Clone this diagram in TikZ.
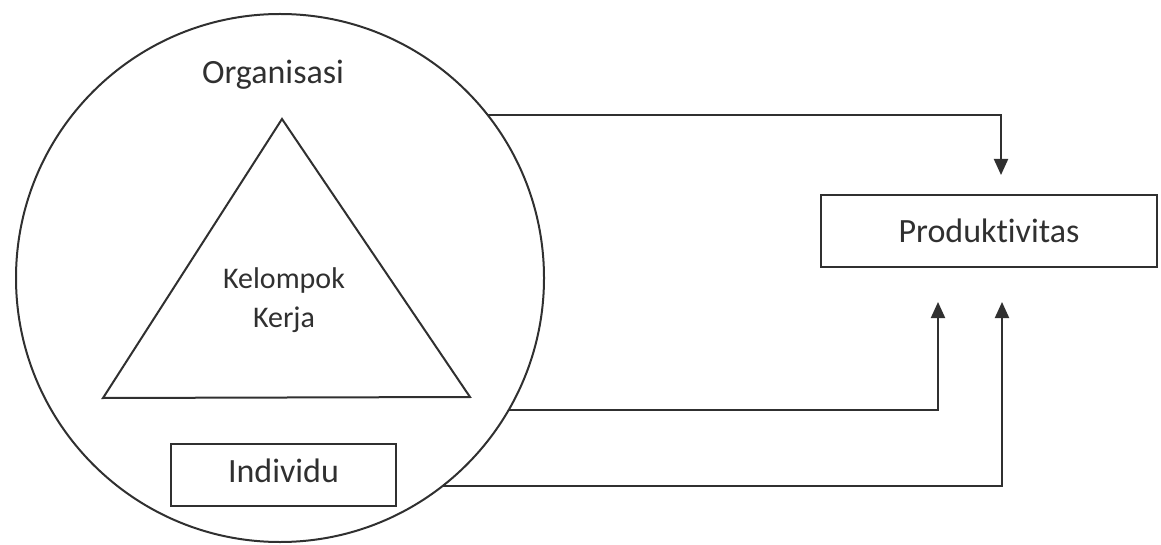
\documentclass[tikz,border=0pt]{standalone}
\usepackage{fontspec}
\setmainfont{Carlito}[Ligatures=NoCommon]
\usetikzlibrary{arrows.meta}
\definecolor{ink}{HTML}{303030}
\begin{document}
\begin{tikzpicture}[x=0.5pt,y=-0.5pt,
  line/.style={draw=ink,line width=1pt},
  arr/.style={line,-{Triangle[width=7pt,length=8pt]}},
  lbl/.style={text=ink,font=\fontsize{17pt}{20pt}\selectfont,inner sep=0pt},
  boxnode/.style={line,rectangle,inner sep=0pt,outer sep=0pt,text=ink,font=\fontsize{17pt}{20pt}\selectfont}]
\useasboundingbox (0,0) rectangle (1161,545);
% organisation circle
\node[line,circle,minimum size=264pt,inner sep=0pt,outer sep=0pt] (org) at (280,278) {};
\node[lbl,anchor=base] (orgtxt) at (273,84) {Organisasi};
% triangle (work group)
\coordinate (tapex) at (282,119);
\coordinate (tleft) at (103,398);
\coordinate (tright) at (470,397);
\draw[line,line join=miter] (tapex) -- (tleft) -- (tright) -- cycle;
\node[lbl,align=center,font=\fontsize{15pt}{19.5pt}\selectfont] (kel) at (284,300) {Kelompok\\Kerja};
% individual
\node[boxnode,minimum width=112.5pt,minimum height=31pt,text depth=4pt] (ind) at (283.5,475) {Individu};
% productivity
\node[boxnode,minimum width=168pt,minimum height=36pt] (prod) at (989,231) {Produktivitas};
% connector columns
\coordinate (xa) at (1001,0);
\coordinate (xb) at (938,0);
\coordinate (xc) at (1002,0);
\draw[arr,shorten >=10pt] (org.38.7) -| (xa |- prod.north);
\draw[arr,shorten >=17.5pt] (org.-30.5) -| (xb |- prod.south);
\draw[arr,shorten >=17.5pt] (org.-52.7) -| (xc |- prod.south);
\end{tikzpicture}
\end{document}
